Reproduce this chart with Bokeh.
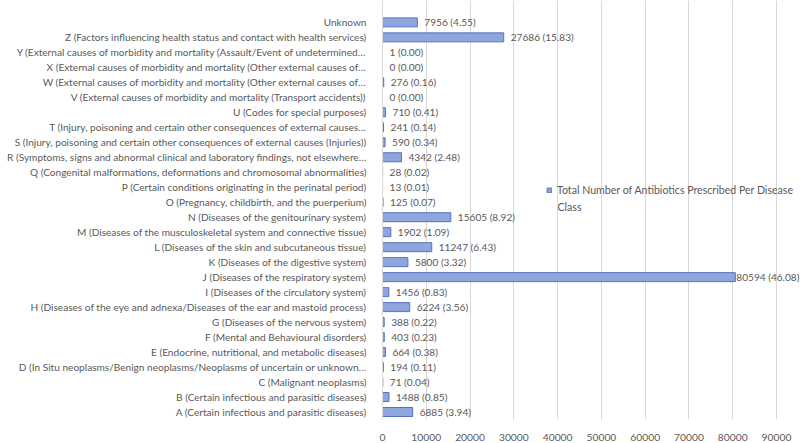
from bokeh.plotting import figure
from bokeh.models import (ColumnDataSource, FixedTicker, Legend, LegendItem,
                          NumeralTickFormatter, Range1d, Label)
from bokeh.embed import file_html
from bokeh.resources import INLINE
from bokeh.core.properties import value

categories = [
    "A (Certain infectious and parasitic diseases)",
    "B (Certain infectious and parasitic diseases)",
    "C (Malignant neoplasms)",
    "D (In Situ neoplasms/Benign neoplasms/Neoplasms of uncertain or unknown…",
    "E (Endocrine, nutritional, and metabolic diseases)",
    "F (Mental and Behavioural disorders)",
    "G (Diseases of the nervous system)",
    "H (Diseases of the eye and adnexa/Diseases of the ear and mastoid process)",
    "I (Diseases of the circulatory system)",
    "J (Diseases of the respiratory system)",
    "K (Diseases of the digestive system)",
    "L (Diseases of the skin and subcutaneous tissue)",
    "M (Diseases of the musculoskeletal system and connective tissue)",
    "N (Diseases of the genitourinary system)",
    "O (Pregnancy, childbirth, and the puerperium)",
    "P (Certain conditions originating in the perinatal period)",
    "Q (Congenital malformations, deformations and chromosomal abnormalities)",
    "R (Symptoms, signs and abnormal clinical and laboratory findings, not elsewhere…",
    "S (Injury, poisoning and certain other consequences of external causes (Injuries))",
    "T (Injury, poisoning and certain other consequences of external causes…",
    "U (Codes for special purposes)",
    "V (External causes of morbidity and mortality (Transport accidents))",
    "W (External causes of morbidity and mortality (Other external causes of…",
    "X (External causes of morbidity and mortality (Other external causes of…",
    "Y (External causes of morbidity and mortality (Assault/Event of undetermined…",
    "Z (Factors influencing health status and contact with health services)",
    "Unknown",
]
counts = [6885, 1488, 71, 194, 664, 403, 388, 6224, 1456, 80594, 5800, 11247, 1902,
          15605, 125, 13, 28, 4342, 590, 241, 710, 0, 276, 0, 1, 27686, 7956]
percents = ["3.94", "0.85", "0.04", "0.11", "0.38", "0.23", "0.22", "3.56", "0.83", "46.08",
            "3.32", "6.43", "1.09", "8.92", "0.07", "0.01", "0.02", "2.48", "0.34", "0.14",
            "0.41", "0.00", "0.16", "0.00", "0.00", "15.83", "4.55"]
x_ticks = [0, 10000, 20000, 30000, 40000, 50000, 60000, 70000, 80000, 90000]
series_name = "Total Number of Antibiotics Prescribed Per Disease"
series_name_cont = "Class"

pos = list(range(len(categories)))
labels = [f"{c} ({p})" for c, p in zip(counts, percents)]
# labels that would run past the chart edge are nudged against the bar end (as Excel does)
vmax = max(counts)
offsets = [1 if c == vmax else 7 for c in counts]
src = ColumnDataSource(dict(y=pos, v=counts, lab=labels, off=offsets))

FONT = "Lato"
TXT = "#595959"
FS = "10.1px"

p = figure(width=800, height=443, output_backend="svg", toolbar_location=None,
           x_range=Range1d(0, 95476), y_range=Range1d(-0.5, 27.46),
           min_border_left=382, min_border_right=0, min_border_top=0, min_border_bottom=22)
p.outline_line_color = None

r = p.hbar(y="y", right="v", left=0, height=0.6, source=src,
           fill_color="#8FA5DD", line_color="#5673C0", line_width=1)
p.text(x="v", y="y", text="lab", source=src, x_offset="off", text_baseline="middle",
       text_align="left", text_font=value(FONT), text_font_size="10.1px", text_color=TXT)

p.xaxis.ticker = FixedTicker(ticks=x_ticks)
p.xaxis.formatter = NumeralTickFormatter(format="0")
p.xaxis.axis_line_color = None
p.xaxis.major_tick_line_color = None
p.xaxis.minor_tick_line_color = None
p.xaxis.major_label_standoff = 8
p.xaxis.major_label_text_font = FONT
p.xaxis.major_label_text_font_size = "10.3px"
p.xaxis.major_label_text_color = TXT

p.yaxis.ticker = FixedTicker(ticks=pos)
p.yaxis.major_label_overrides = {i: c for i, c in enumerate(categories)}
p.yaxis.axis_line_color = "#D9D9D9"
p.yaxis.major_tick_line_color = None
p.yaxis.minor_tick_line_color = None
p.yaxis.major_label_standoff = 10
p.yaxis.major_label_text_font = FONT
p.yaxis.major_label_text_font_size = FS
p.yaxis.major_label_text_color = TXT

p.xgrid.ticker = FixedTicker(ticks=x_ticks)
p.xgrid.grid_line_color = "#D9D9D9"
p.ygrid.grid_line_color = None

legend = Legend(items=[LegendItem(label=series_name, renderers=[r])], location=(164, 223),
                border_line_color=None, background_fill_alpha=0, padding=0, margin=0,
                glyph_width=6, glyph_height=6, label_standoff=5, label_height=12,
                label_text_font=FONT, label_text_font_size="10.6px", label_text_color=TXT)
p.add_layout(legend)
p.add_layout(Label(x=175, y=213, x_units="screen", y_units="screen", text=series_name_cont,
                   text_baseline="middle", text_font=FONT, text_font_size="10.6px",
                   text_color=TXT))

open("out.html", "w").write(file_html(p, INLINE))
